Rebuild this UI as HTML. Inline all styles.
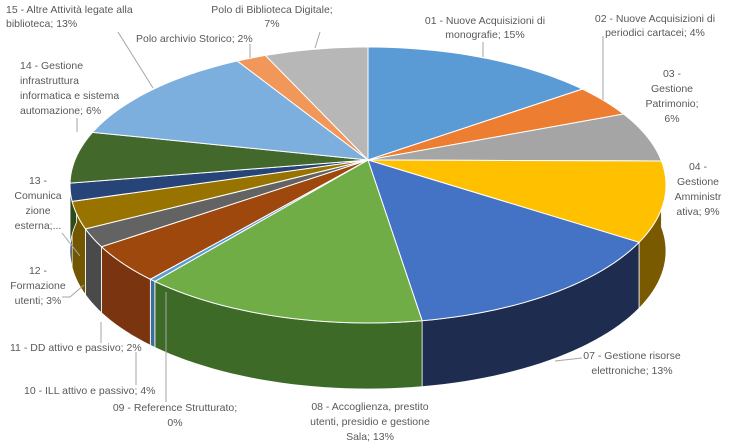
<!DOCTYPE html>
<html><head><meta charset="utf-8"><style>
html,body{margin:0;padding:0;background:#fff;}
svg{display:block;font-family:"Liberation Sans",sans-serif;}
text{font-size:10.5px;fill:#595959;}
</style></head><body>
<svg id="chart" width="736" height="445" viewBox="0 0 736 445" xmlns="http://www.w3.org/2000/svg">
<g id="walls"></g>
<g id="tops"></g>
<g id="leaders" stroke="#a6a6a6" fill="none" stroke-width="1">
<path d="M483,42 L483,57"/>
<path d="M603,36 L603,100"/>
<path d="M555,361 L582,358"/>
<path d="M166,292 L166,402"/>
<path d="M136,352 L136,385"/>
<path d="M101,322 L101,343"/>
<path d="M84,285 L70,297 L62,297"/>
<path d="M62,233 L80,256"/>
<path d="M77,118 L77,132"/>
<path d="M118,32 L153,88"/>
<path d="M250,44 L250,58"/>
<path d="M320,32 L315,48"/>
</g>
<g id="labels">
<text text-anchor="middle" x="485" y="24">01 - Nuove Acquisizioni di<tspan x="485" dy="14">monografie; 15%</tspan></text>
<text text-anchor="middle" x="655" y="22">02 - Nuove Acquisizioni di<tspan x="655" dy="14">periodici cartacei; 4%</tspan></text>
<text text-anchor="middle" x="672" y="77">03 -<tspan x="672" dy="15">Gestione</tspan><tspan x="672" dy="15">Patrimonio;</tspan><tspan x="672" dy="15">6%</tspan></text>
<text text-anchor="middle" x="698" y="170">04 -<tspan x="698" dy="15">Gestione</tspan><tspan x="698" dy="15">Amministr</tspan><tspan x="698" dy="15">ativa; 9%</tspan></text>
<text text-anchor="middle" x="632" y="359">07 - Gestione risorse<tspan x="632" dy="15">elettroniche; 13%</tspan></text>
<text text-anchor="middle" x="370" y="410">08 - Accoglienza, prestito<tspan x="370" dy="15">utenti, presidio e gestione</tspan><tspan x="370" dy="15">Sala; 13%</tspan></text>
<text text-anchor="middle" x="175" y="411">09 - Reference Strutturato;<tspan x="175" dy="15">0%</tspan></text>
<text x="24" y="394">10 - ILL attivo e passivo; 4%</text>
<text x="10" y="351">11 - DD attivo e passivo; 2%</text>
<text text-anchor="middle" x="38" y="274">12 -<tspan x="38" dy="15">Formazione</tspan><tspan x="38" dy="15">utenti; 3%</tspan></text>
<text text-anchor="middle" x="38" y="184">13 -<tspan x="38" dy="15">Comunica</tspan><tspan x="38" dy="15">zione</tspan><tspan x="38" dy="15">esterna;...</tspan></text>
<text x="20" y="69">14 - Gestione<tspan x="20" dy="15">infrastruttura</tspan><tspan x="20" dy="15">informatica e sistema</tspan><tspan x="20" dy="15">automazione; 6%</tspan></text>
<text x="6" y="13">15 - Altre Attività legate alla<tspan x="6" dy="14">biblioteca; 13%</tspan></text>
<text x="136" y="42">Polo archivio Storico; 2%</text>
<text text-anchor="middle" x="272" y="13">Polo di Biblioteca Digitale;<tspan x="272" dy="14">7%</tspan></text>
</g>
</svg>
<script>
const categories = ["01","02","03","04","05","06","07","08","09","10","11","12","13","14","15","Polo archivio Storico","Polo di Biblioteca Digitale"];
const values = [15.5,4,6,9,0,0,13,13,0.3,4,2,3,2,6,13,2,7];
const topColors = ["#5b9bd5","#ed7d31","#a5a5a5","#ffc000","#4472c4","#70ad47","#4472c4","#70ad47","#5b9bd5","#9e480e","#636363","#997300","#264478","#43682b","#7cafdd","#f1975a","#b7b7b7"];
const wallColors = ["#3c6e9c","#a8551c","#707070","#7a5a00","#233a66","#3f6626","#1e2c4f","#3e6a28","#3c6e9c","#7a3510","#4a4a4a","#725600","#17294a","#2c4a1c","#5a8ab5","#b06a3c","#858585"];
const NS="http://www.w3.org/2000/svg";
const cx=368, cy=185, rx=298, ry=138, ax=368, ay=160, depth=66;
const total = values.reduce((a,b)=>a+b,0);
function warp(t){return t - (12*Math.PI/180)*Math.sin(t);}
function pt(frac,dy){const t=warp(frac*2*Math.PI);return [cx+rx*Math.sin(t), cy-ry*Math.cos(t)+(dy||0)];}
function arc(f0,f1,dy){let s="";const n=Math.max(2,Math.ceil((f1-f0)*200));for(let i=0;i<=n;i++){const p=pt(f0+(f1-f0)*i/n,dy);s+=(i?"L":"")+p[0].toFixed(2)+","+p[1].toFixed(2)+" ";}return s;}
function rarc(f0,f1,dy){let s="";const n=Math.max(2,Math.ceil((f1-f0)*200));for(let i=n;i>=0;i--){const p=pt(f0+(f1-f0)*i/n,dy);s+="L"+p[0].toFixed(2)+","+p[1].toFixed(2)+" ";}return s;}
const walls=document.getElementById('walls'), tops=document.getElementById('tops');
let acc=0;
values.forEach((v,i)=>{
  const f0=acc/total, f1=(acc+v)/total; acc+=v;
  if(v<=0) return;
  const w0=Math.max(f0,0.25), w1=Math.min(f1,0.75);
  if(w1>w0){
    const w=document.createElementNS(NS,'path');
    w.setAttribute('d',"M"+arc(w0,w1,0)+rarc(w0,w1,depth)+"Z");
    w.setAttribute('fill',wallColors[i]);
    w.setAttribute('stroke','#fff');w.setAttribute('stroke-width','0.8');
    
    
    walls.appendChild(w);
  }
  const p=document.createElementNS(NS,'path');
  p.setAttribute('d',"M"+ax+","+ay+" L"+arc(f0,f1,0)+"Z");
  p.setAttribute('fill',topColors[i]);
  p.setAttribute('stroke','#fff');p.setAttribute('stroke-width','1');
  
  
  tops.appendChild(p);
});
</script>
</body></html>
